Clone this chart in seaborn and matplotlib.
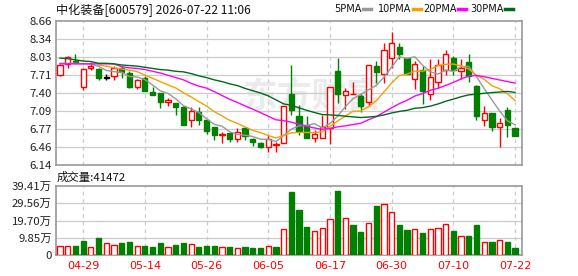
import numpy as np
import pandas as pd
import matplotlib
matplotlib.use("Agg")
import matplotlib.pyplot as plt
import seaborn as sns

# ---------------- data ----------------
opens = [7.71, 7.91, 7.96, 7.50, 7.84, 7.82, 7.67, 7.69, 7.84, 7.75,
         7.50, 7.67, 7.42, 7.40, 7.25, 7.22, 7.15, 6.92, 7.06, 6.93,
         6.80, 6.66, 6.70, 6.59, 6.78, 6.60, 6.53, 6.45, 6.49, 6.52,
         7.38, 7.00, 6.84, 6.61, 6.61, 6.78, 7.78, 7.36, 7.38, 7.35,
         7.25, 7.88, 7.73, 8.01, 8.20, 8.01, 7.64, 7.81, 7.38, 7.60,
         7.81, 8.02, 7.79, 7.95, 7.53, 6.92, 7.05, 6.80, 7.11, 6.78]
closes = [7.89, 8.03, 7.94, 7.82, 7.87, 7.67, 7.67, 7.84, 7.76, 7.50,
          7.63, 7.44, 7.37, 7.25, 7.28, 7.15, 6.84, 7.09, 6.93, 6.74,
          6.66, 6.68, 6.60, 6.71, 6.65, 6.55, 6.45, 6.59, 6.51, 7.18,
          7.11, 6.74, 6.61, 6.68, 6.80, 7.50, 7.38, 7.44, 7.39, 7.18,
          7.89, 7.76, 8.16, 8.27, 8.09, 7.74, 7.91, 7.43, 7.68, 7.89,
          8.09, 7.81, 7.84, 7.70, 6.99, 7.05, 6.81, 6.88, 6.84, 6.64]
highs = [7.90, 8.04, 8.09, 7.83, 7.94, 7.84, 7.74, 7.87, 7.87, 7.78,
         7.64, 7.70, 7.50, 7.40, 7.32, 7.22, 7.18, 7.15, 7.16, 6.93,
         6.81, 6.71, 6.70, 6.78, 6.80, 6.61, 6.55, 6.67, 6.55, 7.18,
         7.89, 7.19, 6.99, 6.75, 7.02, 7.50, 8.01, 7.49, 7.60, 7.39,
         7.89, 7.96, 8.27, 8.46, 8.27, 8.01, 7.96, 7.87, 7.99, 7.99,
         8.16, 8.04, 7.99, 8.09, 7.54, 7.18, 7.05, 6.96, 7.15, 6.78]
lows = [7.70, 7.84, 7.91, 7.46, 7.81, 7.62, 7.62, 7.63, 7.66, 7.49,
        7.47, 7.43, 7.36, 7.13, 7.18, 7.02, 6.84, 6.81, 6.84, 6.68,
        6.58, 6.53, 6.55, 6.55, 6.57, 6.48, 6.43, 6.36, 6.36, 6.52,
        7.02, 6.67, 6.61, 6.55, 6.61, 6.51, 7.22, 7.12, 7.38, 7.06,
        7.18, 7.57, 7.57, 7.84, 7.99, 7.74, 7.47, 7.21, 7.28, 7.49,
        7.72, 7.72, 7.64, 7.60, 6.92, 6.82, 6.74, 6.46, 6.63, 6.64]
volumes = [53600, 53600, 53600, 80300, 45900, 99500, 67000, 57400, 70800, 74600,
           51700, 53600, 47800, 68900, 45900, 57400, 68900, 63100, 47800, 53600,
           53600, 45900, 45900, 40200, 47800, 42100, 42100, 51700, 47800, 146000,
           359600, 258300, 160700, 135800, 153000, 204700, 367300, 210400, 172200, 132000,
           181700, 281200, 290800, 244900, 172200, 143500, 147300, 126300, 147300, 153000,
           176000, 137700, 107100, 109000, 172200, 72700, 74600, 84200, 74600, 41472]

ma5_head = [7.92, 7.92, 7.92, 7.91]
ma10_head = [7.89, 7.87, 7.84, 7.82]          # indices 5..8 (nothing drawn before 5)
ma20_head = [7.91, 7.91, 7.91, 7.91, 7.91, 7.91, 7.91, 7.91, 7.86, 7.84,
             7.83, 7.81, 7.78, 7.75, 7.71, 7.67, 7.63, 7.57, 7.52]
ma30_head = [8.01, 8.00, 7.98, 7.96, 7.95, 7.92, 7.92, 7.91, 7.89, 7.88,
             7.87, 7.85, 7.83, 7.81, 7.80, 7.78, 7.77, 7.74, 7.70, 7.67,
             7.63, 7.60, 7.56, 7.53, 7.48, 7.44, 7.40, 7.35, 7.28]

date_ticks = [3, 11, 19, 27, 35, 43, 51, 59]
date_labels = ["04-29", "05-14", "05-26", "06-05", "06-17", "06-30", "07-10", "07-22"]
price_ticks = [6.14, 6.46, 6.77, 7.09, 7.40, 7.71, 8.03, 8.34, 8.66]
vol_ticks = [0, 98525, 197050, 295575, 394100]
vol_labels = ["0", "9.85万", "19.70万", "29.56万", "39.41万"]
title = "中化装备[600579] 2026-07-22 11:06"
vol_title = "成交量:41472"
legend_labels = ["5PMA", "10PMA", "20PMA", "30PMA"]

# ---------------- build frame ----------------
n = len(closes)
df = pd.DataFrame({"idx": np.arange(n), "open": opens, "close": closes,
                   "high": highs, "low": lows, "vol": volumes})
c = df["close"]
ma5 = c.rolling(5).mean().to_numpy(); ma5[:4] = ma5_head
ma10 = c.rolling(10).mean().to_numpy(); ma10[5:9] = ma10_head
ma20 = c.rolling(20).mean().to_numpy(); ma20[:19] = ma20_head
ma30 = c.rolling(30).mean().to_numpy(); ma30[:29] = ma30_head
df["ma5"], df["ma10"], df["ma20"], df["ma30"] = ma5, ma10, ma20, ma30

RED = "#FF0000"
GREEN = "#008000"
GRID = "#cccccc"
FRAME = "#999999"
MA_COLORS = ["#999999", "#F2A100", "#FF00FF", "#006A1C"]

plt.rcParams["font.family"] = ["Noto Sans CJK SC", "DejaVu Sans"]

fig = plt.figure(figsize=(5.78, 2.76), dpi=100)
W, H = 578, 276
ax = fig.add_axes([56 / W, 1 - 165 / H, 466 / W, 144 / H])
axv = fig.add_axes([56 / W, 1 - 255 / H, 466 / W, 69 / H])

xlim = (-0.52, 59.9)
for a in (ax, axv):
    a.set_xlim(*xlim)
    a.set_facecolor("none")
    for s in a.spines.values():
        s.set_color(FRAME)
        s.set_linewidth(1.2)
    a.tick_params(length=0, labelsize=8.2, colors="#222222", pad=3)
    a.set_xticks(date_ticks)
    for t in date_ticks:
        a.axvline(t, color=GRID, lw=0.9, ls=(0, (3, 3)), zorder=0.5)

# watermark (behind the axes)
fig.text(312 / W, 1 - 96 / H, "东方财富", fontsize=25, color="#ebebeb",
         fontweight="bold", ha="center", va="center", zorder=-1)

# price grid
ax.set_ylim(6.14, 8.66)
ax.set_yticks(price_ticks)
ax.set_yticklabels([f"{v:.2f}" for v in price_ticks])
for v in price_ticks[1:-1]:
    ax.axhline(v, color=GRID, lw=0.9, zorder=0.4)
ax.set_xticklabels([])

# candles
bw = 0.68
for i, r in df.iterrows():
    o, cl, hi, lo = r["open"], r["close"], r["high"], r["low"]
    if cl > o:
        col, face = RED, "white"
    elif cl < o:
        col, face = GREEN, GREEN
    else:
        col, face = "black", "black"
    ax.vlines(i, lo, hi, color=col, lw=1.0, zorder=2)
    bot = min(o, cl)
    h = max(abs(cl - o), 0.004)
    ax.bar(i, h, bottom=bot, width=bw, color=face, edgecolor=col,
           linewidth=1.0, zorder=3)

# moving averages
for k, colr in zip(["ma5", "ma10", "ma20", "ma30"], MA_COLORS):
    sns.lineplot(data=df, x="idx", y=k, ax=ax, color=colr, lw=1.0, zorder=4,
                 legend=False)
ax.set_xlabel("")
ax.set_ylabel("")

# volume
prev = np.r_[opens[0], closes[:-1]]
vol_up = np.array(closes) >= prev
for i in range(n):
    if vol_up[i]:
        axv.bar(i, volumes[i], width=bw, color="white", edgecolor=RED, linewidth=1.0, zorder=3)
    else:
        axv.bar(i, volumes[i], width=bw, color=GREEN, edgecolor=GREEN, linewidth=1.0, zorder=3)
axv.set_ylim(0, 394100)
axv.set_yticks(vol_ticks)
axv.set_yticklabels(vol_labels)
for v in vol_ticks[1:-1]:
    axv.axhline(v, color=GRID, lw=0.9, zorder=0.4)
axv.set_xticklabels(date_labels, color=RED, fontsize=8, family="DejaVu Sans")
axv.tick_params(axis="x", pad=4)
axv.set_xlabel("")
axv.set_ylabel("")

# texts
fig.text(56 / W, 1 - 10 / H, title, fontsize=8.7, color="#111111", va="center", ha="left")
fig.text(57 / W, 1 - 177 / H, vol_title, fontsize=8.2, color="#111111", va="center", ha="left")

# legend: label then short colored dash
dash_x = [363, 413, 458, 505]
for lab, colr, dx in zip(legend_labels, MA_COLORS, dash_x):
    fig.text((dx - 1.5) / W, 1 - 9 / H, lab, fontsize=7, color="#111111",
             va="center", ha="right", family="DejaVu Sans")
    fig.add_artist(plt.Line2D([dx / W, (dx + 8) / W], [1 - 9 / H, 1 - 9 / H],
                              transform=fig.transFigure, color=colr, lw=2.5))

fig.savefig("out.png", dpi=100)
